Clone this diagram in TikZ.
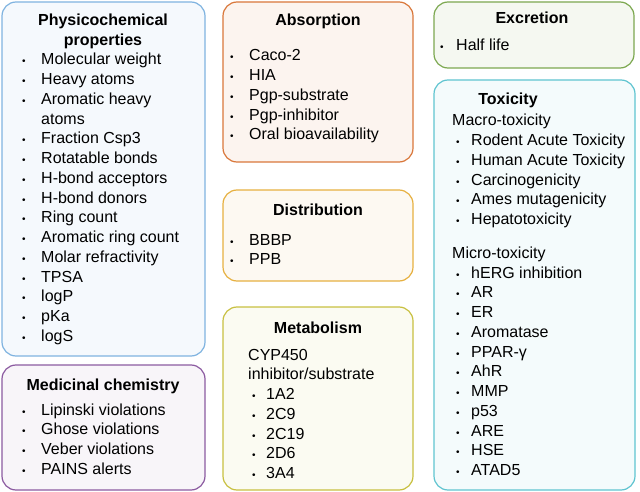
\documentclass[tikz,border=0pt]{standalone}
\usepackage{fontspec}
\setmainfont{Liberation Sans}
\begin{document}
\newcommand\bul{{\fontsize{10}{10}\selectfont\textbullet}}
\begin{tikzpicture}[x=1pt,y=-1pt,
  box/.style={draw=#1,line width=1.2pt,rounded corners=14pt},
  ttl/.style={font=\fontsize{16}{19.75}\selectfont\bfseries,anchor=base,inner sep=0pt},
  lst/.style={font=\fontsize{16}{19.75}\selectfont,anchor=base west,inner sep=0pt}]
\useasboundingbox (0,0) rectangle (640,492);
\definecolor{cb}{HTML}{7FB3E0}\definecolor{co}{HTML}{D9773A}\definecolor{cd}{HTML}{E6B040}
\definecolor{cm}{HTML}{C8C040}\definecolor{cg}{HTML}{7CA850}\definecolor{cc}{HTML}{5FC4D0}
\definecolor{cp}{HTML}{8B5AA0}
\draw[box=cb,fill=cb!8] (2,2) rectangle (205,356);
\draw[box=cp,fill=cp!6] (2,365) rectangle (205,490);
\draw[box=co,fill=co!8] (223,2) rectangle (413,162);
\draw[box=cd,fill=cd!7] (223,190) rectangle (413,281);
\draw[box=cm,fill=cm!7] (223,307) rectangle (413,490);
\draw[box=cg,fill=cg!8] (434,2) rectangle (634,68);
\draw[box=cc,fill=cc!7] (434,80) rectangle (635,490);
\renewcommand\arraystretch{1}
\node[ttl] (tphys) at (103,26) {Physicochemical};
\node[ttl] (tphys2) at (103,45.5) {properties};
\node[lst] (lphys) at (22,65) {\begin{tabular}[t]{@{}p{19pt}@{}l@{}}
\bul & Molecular weight\\ \bul & Heavy atoms\\ \bul & Aromatic heavy\\ & atoms\\
\bul & Fraction Csp3\\ \bul & Rotatable bonds\\ \bul & H-bond acceptors\\ \bul & H-bond donors\\
\bul & Ring count\\ \bul & Aromatic ring count\\ \bul & Molar refractivity\\ \bul & TPSA\\
\bul & logP\\ \bul & pKa\\ \bul & logS\end{tabular}};
\node[ttl] (tmed) at (103,390) {Medicinal chemistry};
\node[lst] (lmed) at (22,415) {\begin{tabular}[t]{@{}p{19pt}@{}l@{}}
\bul & Lipinski violations\\ \bul & Ghose violations\\ \bul & Veber violations\\ \bul & PAINS alerts\end{tabular}};
\node[ttl] (tabs) at (318,26) {Absorption};
\node[lst] (labs) at (230,61) {\begin{tabular}[t]{@{}p{19pt}@{}l@{}}
\bul & Caco-2\\ \bul & HIA\\ \bul & Pgp-substrate\\ \bul & Pgp-inhibitor\\ \bul & Oral bioavailability\end{tabular}};
\node[ttl] (tdis) at (318,215) {Distribution};
\node[lst] (ldis) at (230,245) {\begin{tabular}[t]{@{}p{19pt}@{}l@{}}
\bul & BBBP\\ \bul & PPB\end{tabular}};
\node[ttl] (tmet) at (318,333) {Metabolism};
\node[lst] (lmet) at (248,360) {\begin{tabular}[t]{@{}p{4pt}@{}p{14pt}@{}l@{}}
\multicolumn{3}{@{}l@{}}{CYP450}\\ \multicolumn{3}{@{}l@{}}{inhibitor/substrate}\\
& \bul & 1A2\\ & \bul & 2C9\\ & \bul & 2C19\\ & \bul & 2D6\\ & \bul & 3A4\end{tabular}};
\node[ttl] (texc) at (532,24) {Excretion};
\node[lst] (lexc) at (440,51) {\begin{tabular}[t]{@{}p{16pt}@{}l@{}}
\bul & Half life\end{tabular}};
\node[ttl] (ttox) at (508,105) {Toxicity};
\node[lst] (ltox) at (452,126) {\begin{tabular}[t]{@{}p{4pt}@{}p{15pt}@{}l@{}}
\multicolumn{3}{@{}l@{}}{Macro-toxicity}\\
& \bul & Rodent Acute Toxicity\\ & \bul & Human Acute Toxicity\\ & \bul & Carcinogenicity\\
& \bul & Ames mutagenicity\\ & \bul & Hepatotoxicity\\[14pt]
\multicolumn{3}{@{}l@{}}{Micro-toxicity}\\
& \bul & hERG inhibition\\ & \bul & AR\\ & \bul & ER\\ & \bul & Aromatase\\ & \bul & PPAR-γ\\
& \bul & AhR\\ & \bul & MMP\\ & \bul & p53\\ & \bul & ARE\\ & \bul & HSE\\ & \bul & ATAD5\end{tabular}};
\end{tikzpicture}
\end{document}
